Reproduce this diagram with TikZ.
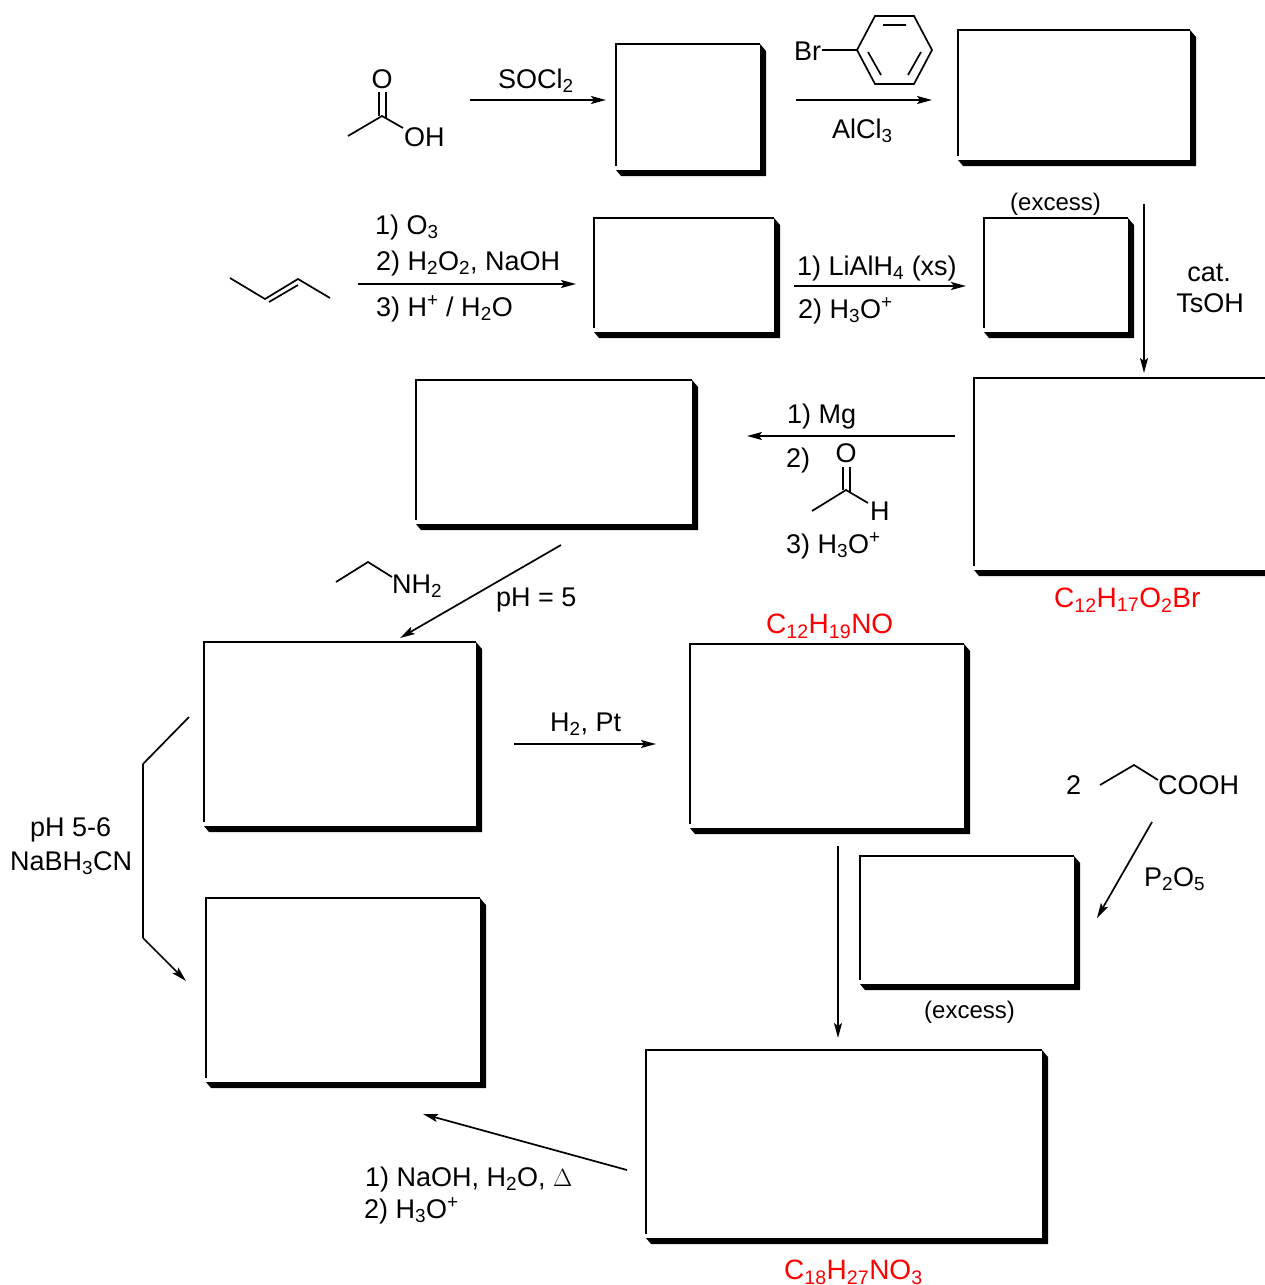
\documentclass[tikz,border=0pt]{standalone}
\usepackage{fontspec}
\setmainfont{Liberation Sans}
\usetikzlibrary{arrows.meta}
\newcommand{\sbs}[1]{\textsubscript{#1}}
\newcommand{\sps}[1]{\textsuperscript{#1}}
\tikzset{
  lab/.style = {anchor=base west, inner sep=0pt, font=\fontsize{27}{32}\selectfont},
  small/.style = {lab, font=\fontsize{24}{28}\selectfont},
  formula/.style = {lab, text=red, font=\fontsize{28}{32}\selectfont},
  atom/.style = {lab, anchor=center},
  bond/.style = {line width=1.7pt},
  rxn/.style = {line width=1.7pt, -{Stealth[length=15pt,width=8pt,inset=3pt]}}
}
\begin{document}
\begin{tikzpicture}[x=1pt, y=-1pt]
  \useasboundingbox (0,0) rectangle (1265,1285);
  % answer boxes
  \foreach \xa/\ya/\xb/\yb in {616/44/760/170, 958/30/1190/160, 594/218/774/332, 984/218/1128/332,
      416/380/692/524, 204/642/476/826, 690/644/964/828, 860/856/1074/984, 206/898/480/1082, 646/1050/1042/1238} {
    \draw [line width=1.7pt] (\xa,\yb-4) -- (\xa,\ya) -- (\xb,\ya);
    \fill (\xb,\ya) -- (\xb+6,\ya+7) -- (\xb+6,\yb+6) -- (\xa+5,\yb+6) -- (\xa,\yb) -- (\xb,\yb) -- cycle;
  }
  \draw [line width=1.7pt] (974,566) -- (974,378) -- (1265,378);
  \fill (974,570) -- (1265,570) -- (1265,576) -- (979,576) -- cycle;
  % reaction arrows
  \foreach \name/\xa/\ya/\xb/\yb in {socl/470/100/606/100, acyl/796/100/932/100, ozone/358/284/576/284,
      lialh/794/286/966/286, tsoh/1144/204/1144/373, grig/955/436/747/436, imine/561/545/400/638,
      hydro/514/744/656/744, ester/1152/822/1097/918, amide/838/846/838/1038, saponif/627/1170/423/1114} {
    \coordinate (\name a) at (\xa,\ya);
    \coordinate (\name b) at (\xb,\yb);
    \draw [rxn] (\name a) -- (\name b);
  }
  % reductive amination
  \coordinate (redam1) at (189,717);
  \coordinate (redam2) at (143,764);
  \coordinate (redam3) at (143,938);
  \coordinate (redam4) at (186,981);
  \draw [bond] (redam1) -- (redam2);
  \draw [line width=2.4pt] (redam2) -- (redam3);
  \draw [rxn] (redam3) -- (redam4);
  % acetic acid
  \node (aaO) [atom] at (382,79) {O};
  \node (aaOH) [lab] at (404,146) {OH};
  \draw [bond] (348,136) -- (382,116) -- (403,128);
  \draw [bond] (379,92) -- (379,116) (386,92) -- (386,118);
  \node (soclt) [lab] at (498,88) {SOCl\sbs{2}};
  % bromobenzene
  \node (phBr) [lab] at (794,60) {Br};
  \draw [bond] (822,50) -- (857,50);
  \draw [bond] (857,50) -- (875,16) -- (914,16) -- (932,50) -- (914,84) -- (875,84) -- cycle;
  \draw [bond] (883,25) -- (906,25) (868,52) -- (881,75) (921,52) -- (908,75);
  \node (alcl) [lab] at (832,138) {AlCl\sbs{3}};
  % butene
  \draw [bond] (230,278) -- (265,299) -- (298,279) -- (330,298);
  \draw [bond] (269,302) -- (298,285);
  \node (ozo1) [lab] at (375,234) {1) O\sbs{3}};
  \node (ozo2) [lab] at (376,270) {2) H\sbs{2}O\sbs{2}, NaOH};
  \node (ozo3) [lab] at (376,316) {3) H\sps{+} / H\sbs{2}O};
  \node (lia1) [lab] at (797,275) {1) LiAlH\sbs{4} (xs)};
  \node (lia2) [lab] at (798,318) {2) H\sbs{3}O\sps{+}};
  \node (exc1) [small] at (1010,210) {(excess)};
  \node (cat) [atom] at (1209,273) {cat.};
  \node (tso) [atom] at (1210,303) {TsOH};
  % grignard
  \node (mg1) [lab] at (787,423) {1) Mg};
  \node (mg2) [lab] at (786,467) {2)};
  \node (mg3) [lab] at (786,553) {3) H\sbs{3}O\sps{+}};
  \node (alO) [atom] at (846,453) {O};
  \node (alH) [lab] at (870,520) {H};
  \draw [bond] (812,511) -- (846,490) -- (868,503);
  \draw [bond] (843,467) -- (843,490) (850,467) -- (850,492);
  \node (f1) [formula] at (1054,607) {C\sbs{12}H\sbs{17}O\sbs{2}Br};
  % ethylamine
  \draw [bond] (336,582) -- (368,562) -- (392,577);
  \node (etN) [lab] at (392,593) {NH\sbs{2}};
  \node (ph5) [lab] at (496,606) {pH = 5};
  \node (f2) [formula] at (766,633) {C\sbs{12}H\sbs{19}NO};
  \node (h2pt) [lab] at (550,731) {H\sbs{2}, Pt};
  \node (ph56) [lab] at (30,836) {pH 5-6};
  \node (nab) [lab] at (10,870) {NaBH\sbs{3}CN};
  % propanoic acid
  \node (two) [lab] at (1066,794) {2};
  \draw [bond] (1100,785) -- (1134,765) -- (1158,780);
  \node (cooh) [lab] at (1158,794) {COOH};
  \node (p2o5) [lab] at (1144,886) {P\sbs{2}O\sbs{5}};
  \node (exc2) [small] at (924,1018) {(excess)};
  \node (nao1) [lab] at (365,1186) {1) NaOH, H\sbs{2}O, $\Delta$};
  \node (nao2) [lab] at (364,1218) {2) H\sbs{3}O\sps{+}};
  \node (f3) [formula] at (784,1279) {C\sbs{18}H\sbs{27}NO\sbs{3}};
\end{tikzpicture}
\end{document}
